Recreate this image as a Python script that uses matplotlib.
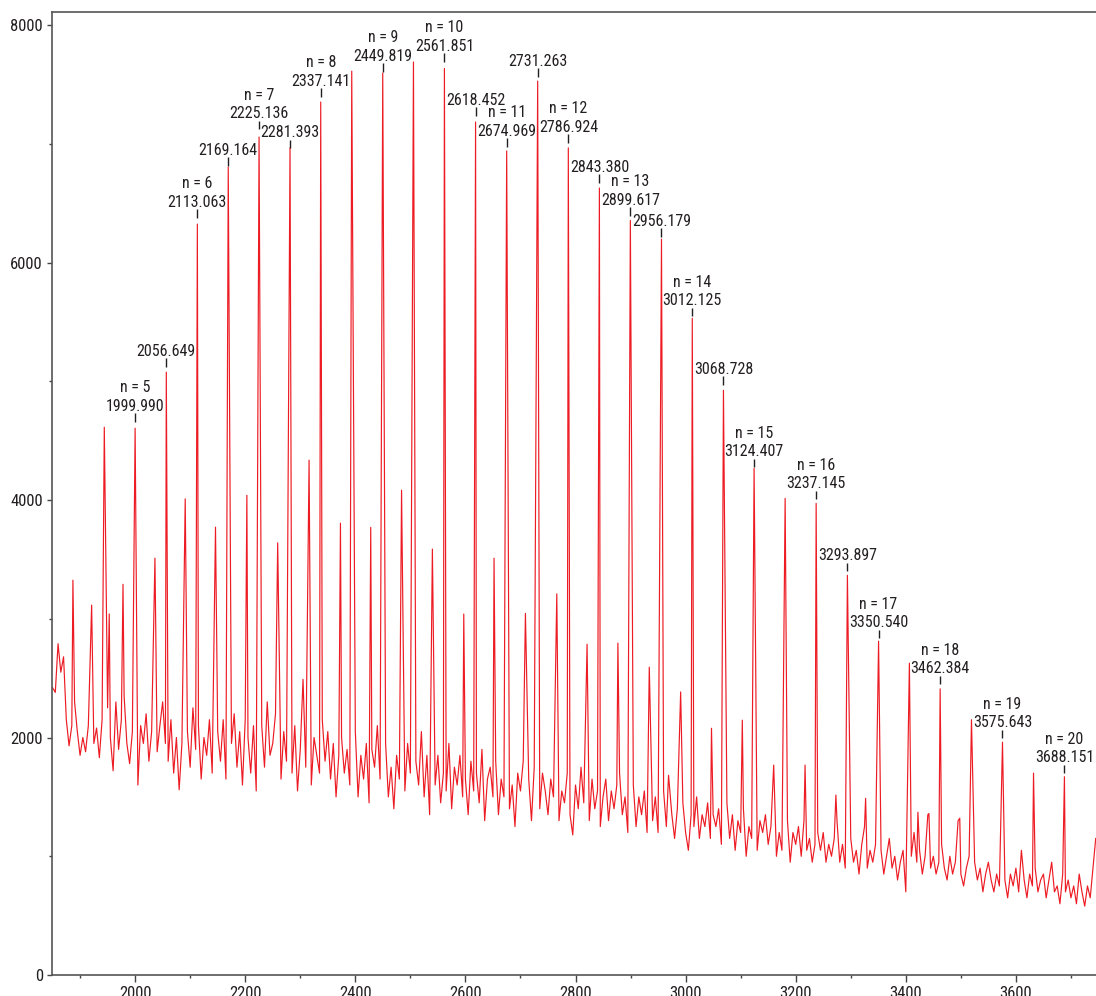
import numpy as np
import matplotlib
matplotlib.use('Agg')
import matplotlib.pyplot as plt
from matplotlib.ticker import MultipleLocator

plt.rcParams['font.family'] = ['Roboto Condensed', 'Open Sans Condensed', 'Noto Sans Condensed',
                               'Liberation Sans Narrow', 'Liberation Sans', 'DejaVu Sans']
plt.rcParams['font.stretch'] = 'condensed'

# main series peaks (labelled ones plus the unlabelled members of the series)
major_mz = [1999.990, 2056.649, 2113.063, 2169.164, 2225.136, 2281.393, 2337.141, 2393.5,
            2449.819, 2505.6, 2561.851, 2618.452, 2674.969, 2731.263, 2786.924, 2843.380,
            2899.617, 2956.179, 3012.125, 3068.728, 3124.407, 3180.8, 3237.145, 3293.897,
            3350.540, 3406.5, 3462.384, 3519.3, 3575.643, 3632.0, 3688.151]
major_h = [4605, 5077, 6324, 6804, 7057, 6967, 7352, 7612,
           7596, 7689, 7634, 7184, 6940, 7528, 6966, 6628,
           6355, 6197, 5531, 4924, 4267, 4014, 3972, 3366,
           2811, 2626, 2410, 2150, 1960, 1700, 1670]

# smaller companion peaks
minor_mz = [1887, 1921, 1944, 1953, 1978, 2036, 2091, 2146, 2203, 2259, 2305, 2316, 2373,
            2428, 2484, 2540, 2597, 2652, 2709, 2766, 2821, 2877, 2934, 2969, 2991, 3047,
            3103, 3160, 3217, 3273, 3327, 3422, 3442, 3498]
minor_h = [3325, 3115, 4613, 3040, 3290, 3510, 4010, 3772, 4040, 3640, 2490, 4336, 3805,
           3770, 4083, 3587, 3040, 3510, 3045, 3210, 2786, 2795, 2592, 1682, 2384, 2078,
           2146, 1768, 1768, 1515, 1488, 1371, 1360, 1320]

# baseline noise, read every 5 m/z from 1850 to 3745
noise_start, noise_step = 1850, 5
noise = [
    2420, 2380, 2790, 2550, 2680, 2150, 1930, 2100, 2300, 2050, 1850, 2000, 1880, 2100, 2250, 1950, 2080, 1830, 2150, 2000,
    2250, 2000, 1720, 2300, 1900, 2150, 2350, 1950, 1780, 2050, 1850, 1600, 2100, 1950, 2200, 1800, 2050, 2250, 1880, 2100,
    2300, 1950, 1800, 2150, 1700, 2000, 1560, 1950, 2200, 2050, 1750, 2250, 1900, 2100, 1650, 2000, 1850, 2150, 1700, 2300,
    2050, 1800, 2150, 1650, 1900, 1950, 2200, 1750, 2050, 1600, 2150, 2000, 1700, 2100, 1550, 1850, 2100, 1750, 2300, 1850,
    1950, 2200, 2000, 1650, 2050, 1800, 1950, 1700, 2100, 1550, 1900, 2100, 1750, 1950, 1600, 2000, 1850, 1700, 2150, 1800,
    2050, 1650, 1950, 1500, 1850, 2000, 1700, 1900, 1600, 1800, 2050, 1500, 1850, 1650, 1950, 1450, 1900, 1750, 2100, 1650,
    1800, 1950, 1500, 1750, 1400, 1850, 1650, 1900, 1550, 1950, 1700, 1450, 1800, 1600, 2050, 1500, 1850, 1350, 1750, 1600,
    1850, 1450, 1700, 1550, 1950, 1400, 1750, 1600, 1850, 1500, 1650, 1350, 1800, 1550, 1700, 1450, 1900, 1300, 1650, 1750,
    1500, 1800, 1350, 1650, 1500, 1750, 1400, 1600, 1250, 1700, 1550, 1800, 1450, 1650, 1300, 1750, 1500, 1400, 1700, 1550,
    1350, 1650, 1500, 1700, 1300, 1550, 1450, 1700, 1350, 1180, 1600, 1400, 1750, 1450, 1550, 1300, 1650, 1400, 1550, 1250,
    1500, 1650, 1300, 1550, 1400, 1600, 1700, 1350, 1500, 1200, 1450, 1600, 1250, 1500, 1350, 1550, 1200, 1450, 1300, 1500,
    1200, 1400, 1550, 1250, 1650, 1350, 1150, 1400, 1300, 1450, 1200, 1050, 1350, 1250, 1500, 1150, 1350, 1250, 1450, 1150,
    1350, 1250, 1400, 1100, 1300, 1450, 1150, 1350, 1050, 1300, 1200, 1400, 1000, 1250, 1150, 1350, 1050, 1300, 1200, 1350,
    1100, 1250, 1300, 1000, 1200, 1050, 1150, 1300, 950, 1200, 1100, 1250, 1000, 1300, 1050, 1150, 950, 1100, 1200, 1050,
    1200, 950, 1100, 1000, 1150, 1300, 950, 1100, 900, 1050, 1150, 950, 1050, 850, 1100, 1250, 900, 1050, 950, 1100,
    950, 1050, 850, 1000, 1150, 900, 1000, 800, 950, 1050, 700, 900, 1000, 1200, 950, 1050, 850, 1000, 1350, 900,
    1000, 850, 950, 1100, 900, 800, 1000, 850, 950, 1300, 850, 750, 900, 1000, 850, 950, 800, 900, 700, 850,
    950, 800, 700, 850, 750, 900, 800, 650, 850, 750, 900, 700, 1050, 800, 650, 850, 750, 900, 700, 800,
    850, 650, 800, 950, 700, 750, 600, 850, 700, 800, 650, 750, 600, 850, 700, 580, 750, 650, 900, 1150,
]

# peak labels: m/z, series index n (None = no n line), intensity where the label tick starts
label_mz = [1999.990, 2056.649, 2113.063, 2169.164, 2225.136, 2281.393, 2337.141, 2449.819,
            2561.851, 2618.452, 2674.969, 2731.263, 2786.924, 2843.380, 2899.617, 2956.179,
            3012.125, 3068.728, 3124.407, 3237.145, 3293.897, 3350.540, 3462.384, 3575.643,
            3688.151]
label_n = [5, None, 6, None, 7, None, 8, 9,
           10, None, 11, None, 12, None, 13, None,
           14, None, 15, 16, None, 17, 18, 19,
           20]
label_y = [4657, 5121, 6375, 6813, 7124, 6964, 7394, 7605,
           7689, 7234, 6973, 7563, 7007, 6670, 6392, 6215,
           5548, 4969, 4276, 4007, 3401, 2837, 2449, 1994,
           1700]

RED = '#ed1c24'
INK = '#231f20'


def build_trace():
    pk_mz = np.array(major_mz + minor_mz, dtype=float)
    pk_h = np.array(major_h + minor_h, dtype=float)
    nz_mz = noise_start + noise_step * np.arange(len(noise))
    nz = np.array(noise, dtype=float)
    # drop baseline samples sitting right on a peak apex
    dist = np.abs(nz_mz[:, None] - pk_mz[None, :]).min(axis=1)
    keep = dist > 1.5
    x = np.concatenate([nz_mz[keep], pk_mz])
    y = np.concatenate([nz[keep], pk_h])
    order = np.argsort(x)
    return x[order], y[order]


def main():
    fig = plt.figure(figsize=(10.96, 9.96), dpi=100)
    ax = fig.add_axes([52 / 1096, 21 / 996, 1 - 52 / 1096, 963 / 996])

    x, y = build_trace()
    ax.plot(x, y, color=RED, lw=0.85)

    for mz, n, ly in zip(label_mz, label_n, label_y):
        ax.vlines(mz, ly, ly + 72, color=INK, lw=1.0)
        txt = f'{mz:.3f}' if n is None else f'n = {n}\n{mz:.3f}'
        ax.text(mz, ly + 92, txt, ha='center', va='baseline', fontsize=11.5,
                color=INK, linespacing=1.3)

    ax.set_xlim(1849, 3745.5)
    ax.set_ylim(0, 8110)
    ax.xaxis.set_major_locator(MultipleLocator(200))
    ax.xaxis.set_minor_locator(MultipleLocator(100))
    ax.yaxis.set_major_locator(MultipleLocator(2000))
    ax.yaxis.set_minor_locator(MultipleLocator(1000))
    ax.tick_params(axis='x', which='major', length=5, width=1, pad=3, labelsize=12,
                   colors='#444444', labelcolor=INK)
    ax.tick_params(axis='x', which='minor', length=2.5, width=1, colors='#444444')
    ax.tick_params(axis='y', which='major', length=3.6, width=1, pad=3, labelsize=12,
                   colors='#444444', labelcolor=INK)
    ax.tick_params(axis='y', which='minor', length=2.2, width=1, colors='#444444')
    for side in ['left', 'bottom', 'top']:
        ax.spines[side].set_color('#555555')
        ax.spines[side].set_linewidth(1.2)
    ax.spines['right'].set_visible(False)

    fig.savefig('out.png', dpi=100)
    plt.close(fig)


if __name__ == '__main__':
    main()
